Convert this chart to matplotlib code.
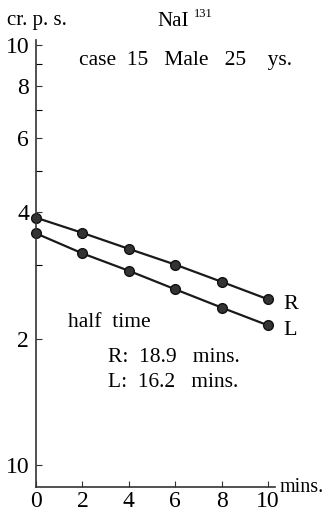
import numpy as np
import matplotlib
matplotlib.use('Agg')
import matplotlib.pyplot as plt
from matplotlib.ticker import FixedLocator, NullFormatter

plt.rcParams['font.family'] = ['Liberation Serif', 'DejaVu Serif']

# 時間 (分) と計数率
mins = [0, 2, 4, 6, 8, 10]
right = [3.88, 3.57, 3.27, 3.00, 2.73, 2.48]
left = [3.56, 3.19, 2.90, 2.62, 2.37, 2.15]

ytick_pos = [1, 2, 4, 6, 8, 10]
ytick_lab = ['10', '2', '4', '6', '8', '10']
yminor = [3, 5, 7, 9]

fig = plt.figure(figsize=(3.31, 5.13), dpi=100)
ax = fig.add_axes([0.109, 0.051, 0.722, 0.871])

ax.plot(mins, right, '-o', color='#1a1a1a', lw=1.6, ms=7,
        mfc='#333333', mec='#111111', clip_on=False)
ax.plot(mins, left, '-o', color='#1a1a1a', lw=1.6, ms=7,
        mfc='#333333', mec='#111111', clip_on=False)

ax.set_yscale('log')
ax.set_xlim(0, 10.3)
ax.set_ylim(0.887, 10.28)

ax.yaxis.set_major_locator(FixedLocator(ytick_pos))
ax.set_yticklabels(ytick_lab)
ax.yaxis.set_minor_locator(FixedLocator(yminor))
ax.yaxis.set_minor_formatter(NullFormatter())
ax.set_xticks(mins)

ax.tick_params(axis='both', direction='in', length=4, width=0.8,
               labelsize=17, color='#333333')
ax.tick_params(axis='y', which='minor', direction='in', length=4, width=0.8)
ax.tick_params(axis='y', pad=5)
ax.tick_params(axis='x', pad=3)

for s in ['top', 'right']:
    ax.spines[s].set_visible(False)
for s in ['left', 'bottom']:
    ax.spines[s].set_linewidth(1.2)
    ax.spines[s].set_color('#333333')

# 文字
fig.text(0.02, 0.96, 'cr. p. s.', fontsize=15, va='center')
fig.text(0.475, 0.958, 'NaI', fontsize=15, va='center')
fig.text(0.585, 0.972, '131', fontsize=9, va='center')
fig.text(0.24, 0.883, 'case  15   Male   25    ys.', fontsize=15.5, va='center')
fig.text(0.845, 0.05, 'mins.', fontsize=14.5, va='center')

ax.annotate('R', (mins[-1], right[-1]), xytext=(11, -4), textcoords='offset points',
            fontsize=16, va='center', ha='left', annotation_clip=False)
ax.annotate('L', (mins[-1], left[-1]), xytext=(11, -4), textcoords='offset points',
            fontsize=16, va='center', ha='left', annotation_clip=False)
fig.text(0.205, 0.372, 'half  time', fontsize=15.5, va='center')
fig.text(0.325, 0.303, 'R:  18.9   mins.', fontsize=15.5, va='center')
fig.text(0.325, 0.255, 'L:  16.2   mins.', fontsize=15.5, va='center')

fig.savefig('out.png', dpi=100)
